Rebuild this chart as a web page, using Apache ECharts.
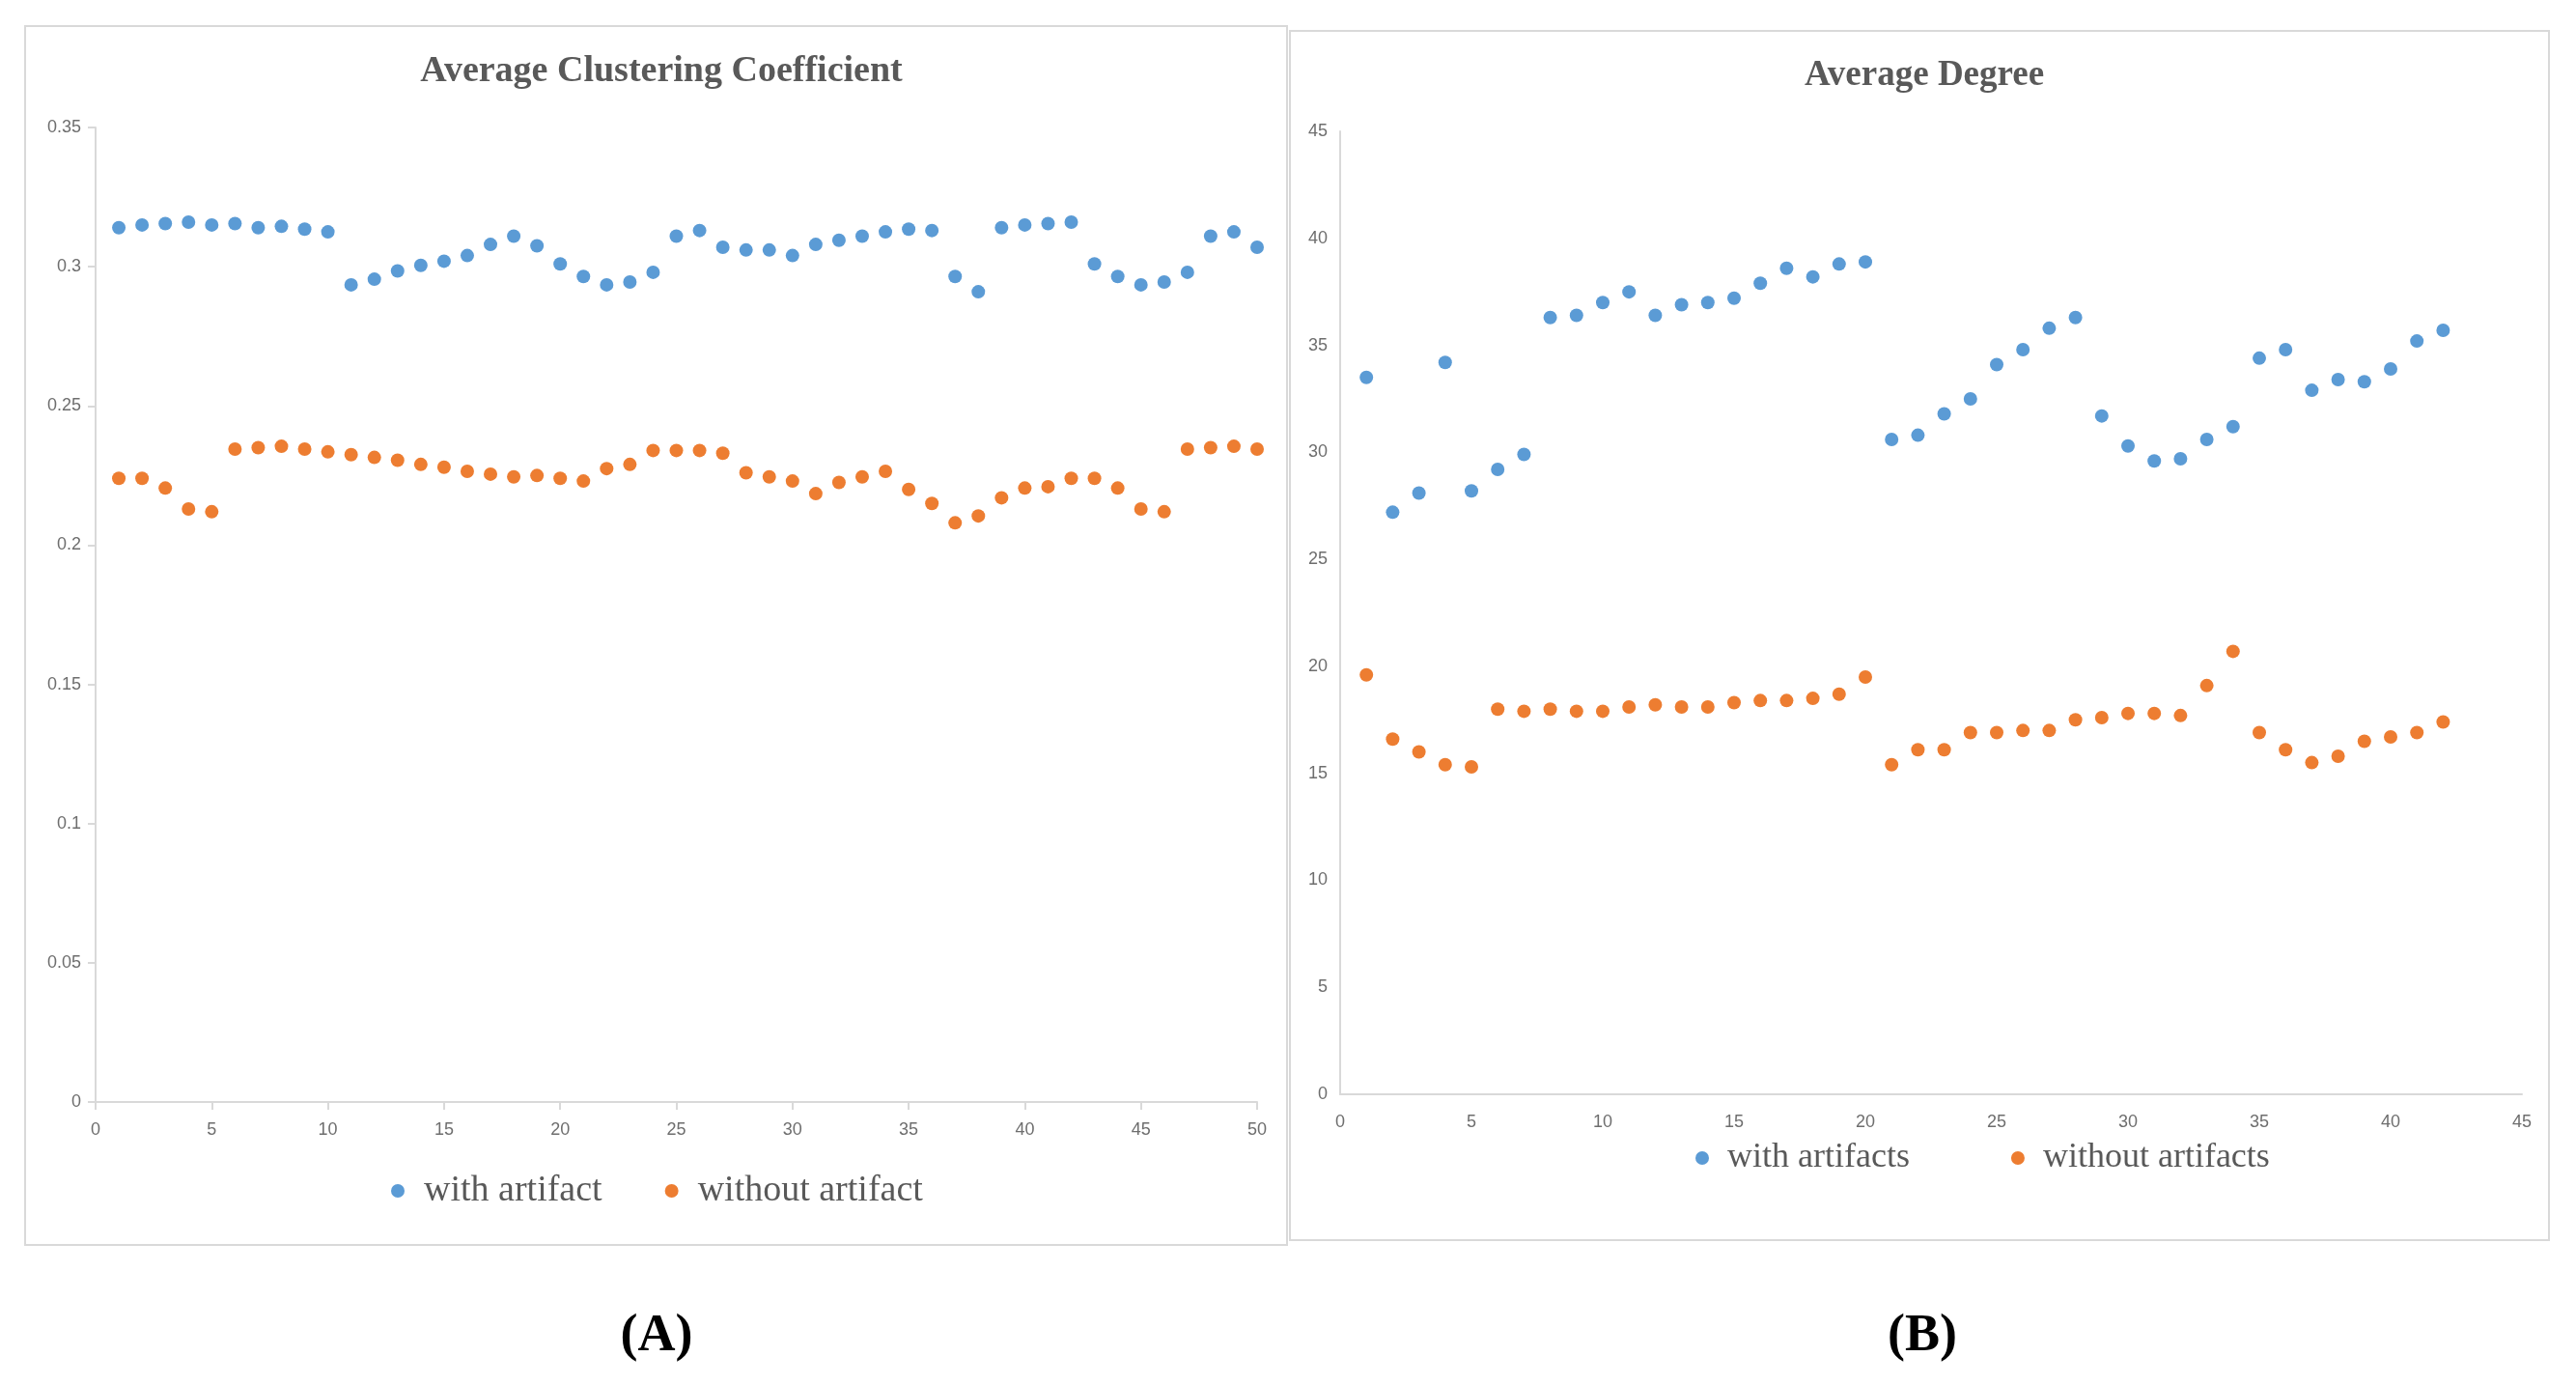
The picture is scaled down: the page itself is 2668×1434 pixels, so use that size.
<!DOCTYPE html>
<html>
<head>
<meta charset="utf-8">
<script src="https://cdn.jsdelivr.net/npm/echarts@6/dist/echarts.min.js"></script>
<style>
html,body{margin:0;padding:0;background:#fff;}
#chart{width:2668px;height:1434px;}
</style>
</head>
<body>
<div id="chart"></div>
<script>
// Panel A: Average Clustering Coefficient (x = 1..50)
const titleA = 'Average Clustering Coefficient';
const legendA = ['with artifact', 'without artifact'];
const withArtifactA = [0.314,0.315,0.3155,0.316,0.315,0.3155,0.314,0.3145,0.3135,0.3125,
  0.2935,0.2955,0.2985,0.3005,0.302,0.304,0.308,0.311,0.3075,0.301,
  0.2965,0.2935,0.2945,0.298,0.311,0.313,0.307,0.306,0.306,0.304,
  0.308,0.3095,0.311,0.3125,0.3135,0.313,0.2965,0.291,0.314,0.315,
  0.3155,0.316,0.301,0.2965,0.2935,0.2945,0.298,0.311,0.3125,0.307];
const withoutArtifactA = [0.224,0.224,0.2205,0.213,0.212,0.2345,0.235,0.2355,0.2345,0.2335,
  0.2325,0.2315,0.2305,0.229,0.228,0.2265,0.2255,0.2245,0.225,0.224,
  0.223,0.2275,0.229,0.234,0.234,0.234,0.233,0.226,0.2245,0.223,
  0.2185,0.2225,0.2245,0.2265,0.22,0.215,0.208,0.2105,0.217,0.2205,
  0.221,0.224,0.224,0.2205,0.213,0.212,0.2345,0.235,0.2355,0.2345];

// Panel B: Average Degree (x = 1..42)
const titleB = 'Average Degree';
const legendB = ['with artifacts', 'without artifacts'];
const withArtifactsB = [33.5,27.2,28.1,34.2,28.2,29.2,29.9,36.3,36.4,37.0,
  37.5,36.4,36.9,37.0,37.2,37.9,38.6,38.2,38.8,38.9,
  30.6,30.8,31.8,32.5,34.1,34.8,35.8,36.3,31.7,30.3,
  29.6,29.7,30.6,31.2,34.4,34.8,32.9,33.4,33.3,33.9,
  35.2,35.7];
const withoutArtifactsB = [19.6,16.6,16.0,15.4,15.3,18.0,17.9,18.0,17.9,17.9,
  18.1,18.2,18.1,18.1,18.3,18.4,18.4,18.5,18.7,19.5,
  15.4,16.1,16.1,16.9,16.9,17.0,17.0,17.5,17.6,17.8,
  17.8,17.7,19.1,20.7,16.9,16.1,15.5,15.8,16.5,16.7,
  16.9,17.4];

const panelLabels = ['(A)', '(B)'];

const toPoints = arr => arr.map((v, i) => [i + 1, v]);

const BLUE = '#5B9BD5', ORANGE = '#ED7D31';
const AXIS_COLOR = '#d9d9d9', LABEL_COLOR = '#6e6e6e', TEXT_COLOR = '#595959';
const SERIF = '"Liberation Serif", "Times New Roman", serif';
const SANS = '"Liberation Sans", Arial, sans-serif';

const chart = echarts.init(document.getElementById('chart'));

function axisCommon(showTick, margin) {
  return {
    axisLine: {show: true, lineStyle: {color: AXIS_COLOR, width: 2}},
    axisTick: {show: showTick, length: 8, lineStyle: {color: AXIS_COLOR, width: 2}},
    splitLine: {show: false},
    axisLabel: {color: LABEL_COLOR, fontFamily: SANS, fontSize: 18, margin: margin}
  };
}

const option = {
  animation: false,
  backgroundColor: '#ffffff',
  title: [
    {text: titleA, left: 680, top: 50, textAlign: 'center',
     textStyle: {fontFamily: SERIF, fontWeight: 'bold', fontSize: 38, color: TEXT_COLOR}},
    {text: titleB, left: 1988, top: 55, textAlign: 'center',
     textStyle: {fontFamily: SERIF, fontWeight: 'bold', fontSize: 37, color: TEXT_COLOR}}
  ],
  legend: [
    {data: legendA, left: 400, top: 1209, icon: 'circle', itemWidth: 14, itemHeight: 14, itemGap: 65,
     textStyle: {fontFamily: SERIF, fontSize: 38, color: TEXT_COLOR, padding: [0, 0, 0, 15]}},
    {data: legendB, left: 1751, top: 1176, icon: 'circle', itemWidth: 14, itemHeight: 14, itemGap: 105,
     textStyle: {fontFamily: SERIF, fontSize: 36, color: TEXT_COLOR, padding: [0, 0, 0, 14]}}
  ],
  grid: [
    {left: 99, top: 132, width: 1203, height: 1009},
    {left: 1388, top: 136, width: 1224, height: 997}
  ],
  xAxis: [
    Object.assign({type: 'value', gridIndex: 0, min: 0, max: 50, interval: 5}, axisCommon(true, 20)),
    Object.assign({type: 'value', gridIndex: 1, min: 0, max: 45, interval: 5}, axisCommon(false, 20))
  ],
  yAxis: [
    Object.assign({type: 'value', gridIndex: 0, min: 0, max: 0.35, interval: 0.05}, axisCommon(true, 15)),
    Object.assign({type: 'value', gridIndex: 1, min: 0, max: 45, interval: 5}, axisCommon(false, 13))
  ],
  series: [
    {name: legendA[0], type: 'scatter', xAxisIndex: 0, yAxisIndex: 0, symbolSize: 14,
     itemStyle: {color: BLUE, opacity: 1}, data: toPoints(withArtifactA)},
    {name: legendA[1], type: 'scatter', xAxisIndex: 0, yAxisIndex: 0, symbolSize: 14,
     itemStyle: {color: ORANGE, opacity: 1}, data: toPoints(withoutArtifactA)},
    {name: legendB[0], type: 'scatter', xAxisIndex: 1, yAxisIndex: 1, symbolSize: 14,
     itemStyle: {color: BLUE, opacity: 1}, data: toPoints(withArtifactsB)},
    {name: legendB[1], type: 'scatter', xAxisIndex: 1, yAxisIndex: 1, symbolSize: 14,
     itemStyle: {color: ORANGE, opacity: 1}, data: toPoints(withoutArtifactsB)}
  ],
  graphic: [
    {type: 'rect', shape: {x: 26, y: 27, width: 1307, height: 1262}, silent: true, z: -1,
     style: {fill: null, stroke: AXIS_COLOR, lineWidth: 2}},
    {type: 'rect', shape: {x: 1336, y: 32, width: 1304, height: 1252}, silent: true, z: -1,
     style: {fill: null, stroke: AXIS_COLOR, lineWidth: 2}},
    {type: 'text', x: 680, y: 1384, silent: true,
     style: {text: panelLabels[0], fill: '#000', font: 'bold 54px ' + SERIF, textAlign: 'center', textVerticalAlign: 'middle'}},
    {type: 'text', x: 1991, y: 1384, silent: true,
     style: {text: panelLabels[1], fill: '#000', font: 'bold 54px ' + SERIF, textAlign: 'center', textVerticalAlign: 'middle'}}
  ]
};
chart.setOption(option);
</script>
</body>
</html>
